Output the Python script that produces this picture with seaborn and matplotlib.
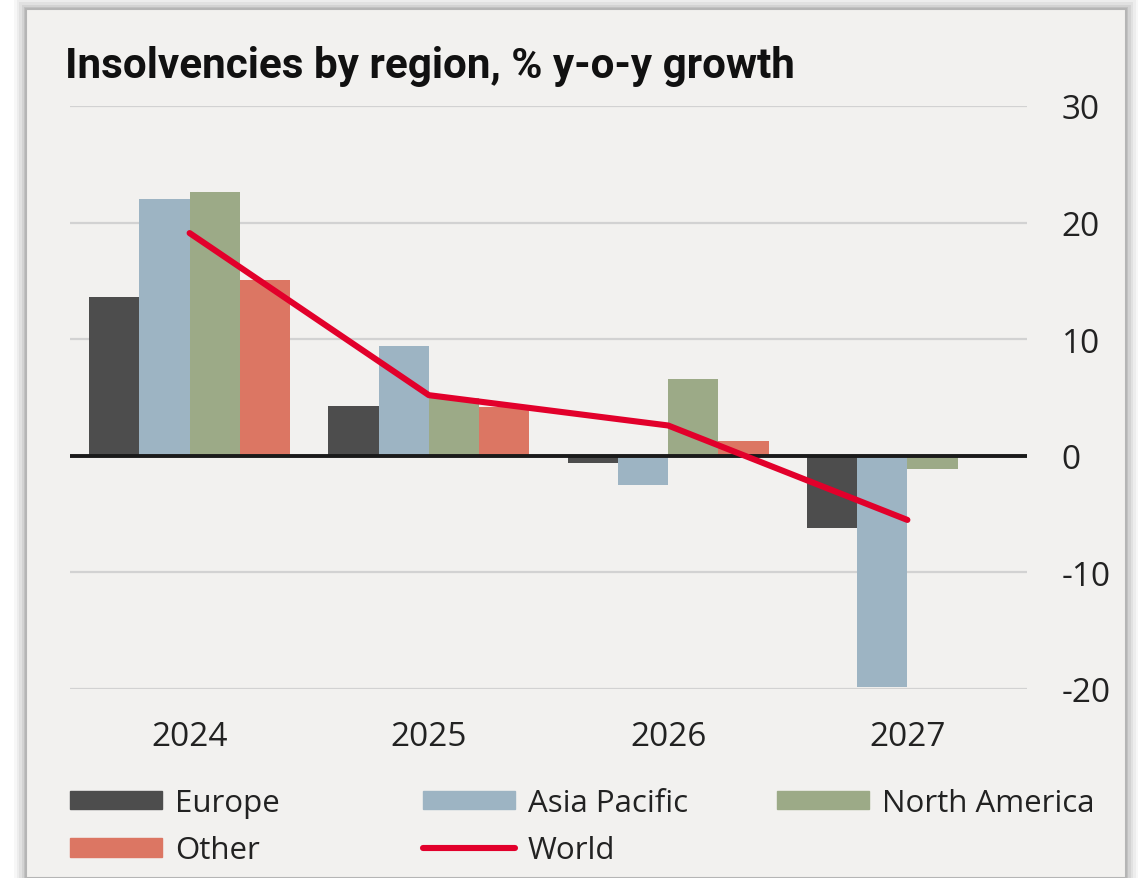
import pandas as pd
import numpy as np
import matplotlib
matplotlib.use("Agg")
import matplotlib.pyplot as plt
import seaborn as sns
from matplotlib.patches import Patch, Rectangle
from matplotlib.lines import Line2D

# Chart data
years = ["2024", "2025", "2026", "2027"]
europe = [13.6, 4.3, -0.6, -6.2]
asia_pacific = [22.0, 9.4, -2.5, -19.8]
north_america = [22.6, 5.0, 6.6, -1.1]
other = [15.1, 4.2, 1.3, np.nan]
world = [19.1, 5.2, 2.6, -5.5]
regions = ["Europe", "Asia Pacific", "North America", "Other"]
yticks = [30, 20, 10, 0, -10, -20]

colors = {"Europe": "#4d4d4d", "Asia Pacific": "#9db4c3",
          "North America": "#9caa87", "Other": "#dc7663"}
world_color = "#e2002b"
bg = "#f2f1ef"

# Long format for seaborn
df = pd.DataFrame({"year": years * 4,
                   "region": np.repeat(regions, len(years)),
                   "value": europe + asia_pacific + north_america + other})
df = df.dropna()
df_world = pd.DataFrame({"year": years, "value": world})

sns.set_theme(style="white")
plt.rcParams["font.family"] = ["Open Sans", "DejaVu Sans"]
plt.rcParams["axes.unicode_minus"] = False

W, H = 1140, 879
fig = plt.figure(figsize=(W / 100, H / 100), dpi=100, facecolor="white")

# Card with soft shadow
for i, a in enumerate([0.06, 0.08, 0.10, 0.14, 0.20]):
    off = 12 - i * 2.5
    fig.patches.append(Rectangle(((26 - off) / W, 0), (1100 + 2 * off) / W, (H - 10 + off) / H,
                                 transform=fig.transFigure, facecolor="#808080",
                                 alpha=a, edgecolor="none", zorder=-10))
fig.patches.append(Rectangle((26 / W, 0), 1100 / W, (H - 10) / H, transform=fig.transFigure,
                             facecolor=bg, edgecolor="#b5b5b5", lw=1.5, zorder=-5))

ax = fig.add_axes([70 / W, 1 - 690 / H, (1027 - 70) / W, (690 - 107) / H])
ax.set_facecolor("none")

sns.barplot(data=df, x="year", y="value", hue="region", hue_order=regions,
            palette=colors, width=0.84, saturation=1, linewidth=0,
            legend=False, ax=ax, zorder=3, order=years)
sns.lineplot(data=df_world, x="year", y="value", color=world_color, lw=4.4,
             ax=ax, zorder=5, solid_capstyle="round")

for t in yticks:
    if t != 0:
        ax.axhline(t, color="#d2d2d2", lw=1.6, zorder=1)
ax.axhline(0, color="#1a1a1a", lw=2.8, zorder=4)

ax.set_xlim(-0.5, 3.5)
ax.set_ylim(-20, 30)
ax.set_yticks(yticks)
ax.yaxis.tick_right()
ax.tick_params(axis="y", length=0, pad=25, labelsize=24, labelcolor="#222222")
ax.tick_params(axis="x", length=0, pad=22, labelsize=24, labelcolor="#222222")
ax.set_xlabel("")
ax.set_ylabel("")
for s in ax.spines.values():
    s.set_visible(False)

fig.text(65 / W, 1 - 78 / H, "Insolvencies by region, % y-o-y growth",
         fontsize=30.4, fontweight="bold", va="baseline", ha="left",
         family=["Roboto", "DejaVu Sans"], color="#111111")

# Legend in three columns
cols = [
    [(Patch(color=colors["Europe"]), "Europe"), (Patch(color=colors["Other"]), "Other")],
    [(Patch(color=colors["Asia Pacific"]), "Asia Pacific"),
     (Line2D([], [], color=world_color, lw=4.4), "World")],
    [(Patch(color=colors["North America"]), "North America")],
]
xs = [70, 423, 777]
for x0, items in zip(xs, cols):
    fig.legend([h for h, _ in items], [l for _, l in items],
               loc="upper left", bbox_to_anchor=(x0 / W, 1 - 789 / H),
               frameon=False, fontsize=22.5, handlelength=2.95, handleheight=0.55,
               handletextpad=0.4, labelspacing=0.55, borderpad=0, borderaxespad=0,
               labelcolor="#222222")

fig.savefig("out.png", dpi=100, facecolor=fig.get_facecolor())
